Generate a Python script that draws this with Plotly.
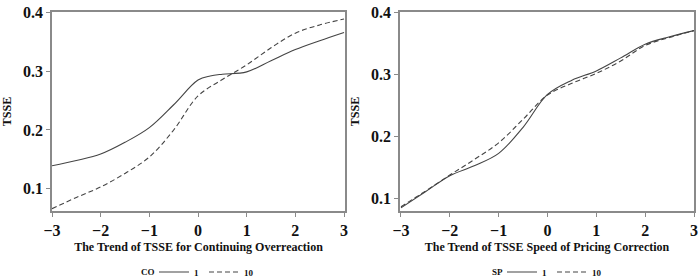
import plotly.graph_objects as go
from plotly.subplots import make_subplots

# ---- data ----
x_co = [-3, -2.5, -2, -1.5, -1, -0.5, 0, 0.25, 0.5, 1, 1.5, 2, 2.5, 3]
co_1 = [0.139, 0.148, 0.159, 0.179, 0.204, 0.243, 0.285, 0.292, 0.295, 0.299, 0.318, 0.337, 0.352, 0.366]
x_co10 = [-3, -2.5, -2, -1.5, -1, -0.5, 0, 0.5, 1, 1.5, 2, 2.5, 3]
co_10 = [0.066, 0.085, 0.103, 0.126, 0.154, 0.200, 0.258, 0.286, 0.311, 0.340, 0.365, 0.379, 0.389]

x_sp = [-3, -2.5, -2, -1.5, -1, -0.5, 0, 0.5, 1, 1.5, 2, 2.5, 3]
sp_1 = [0.085, 0.111, 0.137, 0.153, 0.173, 0.215, 0.268, 0.291, 0.306, 0.327, 0.349, 0.361, 0.371]
sp_10 = [0.087, 0.112, 0.138, 0.163, 0.190, 0.228, 0.267, 0.286, 0.302, 0.322, 0.347, 0.360, 0.371]

x_ticks = [-3, -2, -1, 0, 1, 2, 3]
x_ticklabels = ["\u22123", "\u22122", "\u22121", "0", "1", "2", "3"]
y_ticks = [0.1, 0.2, 0.3, 0.4]
y_ticklabels = ["0.1", "0.2", "0.3", "0.4"]

x_title_left = "The Trend of TSSE for Continuing Overreaction"
x_title_right = "The Trend of TSSE Speed of Pricing Correction"
y_title = "TSSE"
legend_title_left = "CO"
legend_title_right = "SP"

FONT = "Liberation Serif"
LINE_COLOR = "#444444"
AXIS_COLOR = "#8a8a8a"

fig = make_subplots(rows=1, cols=2)

fig.add_trace(go.Scatter(x=x_co, y=co_1, mode="lines", name="1",
                         line=dict(color=LINE_COLOR, width=1.1, shape="spline", smoothing=1.0),
                         legend="legend"), row=1, col=1)
fig.add_trace(go.Scatter(x=x_co10, y=co_10, mode="lines", name="10",
                         line=dict(color=LINE_COLOR, width=1.1, dash="5px,3px", shape="spline", smoothing=1.0),
                         legend="legend"), row=1, col=1)
fig.add_trace(go.Scatter(x=x_sp, y=sp_1, mode="lines", name="1",
                         line=dict(color=LINE_COLOR, width=1.1, shape="spline", smoothing=1.0),
                         legend="legend2"), row=1, col=2)
fig.add_trace(go.Scatter(x=x_sp, y=sp_10, mode="lines", name="10",
                         line=dict(color=LINE_COLOR, width=1.1, dash="5px,3px", shape="spline", smoothing=1.0),
                         legend="legend2"), row=1, col=2)

W, H = 700, 277
def px_x(a, b):
    return [a / W, b / W]
def px_y(top, bottom):
    return [(H - bottom) / H, (H - top) / H]

axis_common = dict(
    showline=True, mirror=True, linecolor=AXIS_COLOR, linewidth=1.5,
    ticks="outside", ticklen=4, tickcolor=AXIS_COLOR, tickwidth=1,
    showgrid=False, zeroline=False,
    tickfont=dict(family=FONT, size=16, color="#111111", weight="bold"),
    automargin=False,
)

fig.update_xaxes(**axis_common, tickvals=x_ticks, ticktext=x_ticklabels)
fig.update_yaxes(**axis_common, tickvals=y_ticks, ticktext=y_ticklabels)

title_font = dict(family=FONT, size=12, color="#111111", weight="bold")
legend_font = dict(family=FONT, size=9, color="#111111", weight="bold")

leg_y = 5 / H
fig.update_layout(
    width=W, height=H,
    margin=dict(l=0, r=0, t=0, b=0, autoexpand=False),
    paper_bgcolor="white", plot_bgcolor="white",
    xaxis=dict(domain=px_x(52, 345), range=[-3, 3.02],
               title=dict(text=x_title_left, font=title_font, standoff=5)),
    yaxis=dict(domain=px_y(12, 211), range=[0.062, 0.401],
               title=dict(text=y_title, font=title_font, standoff=9)),
    xaxis2=dict(domain=px_x(400, 694), range=[-3.02, 3.0],
                title=dict(text=x_title_right, font=title_font, standoff=5)),
    yaxis2=dict(domain=px_y(12, 211), range=[0.080, 0.401],
                title=dict(text=y_title, font=title_font, standoff=9)),
    legend=dict(orientation="h", x=154 / W, xanchor="left", y=leg_y, yanchor="middle",
                font=legend_font, bgcolor="rgba(0,0,0,0)", itemwidth=30, tracegroupgap=0),
    legend2=dict(orientation="h", x=502 / W, xanchor="left", y=leg_y, yanchor="middle",
                 font=legend_font, bgcolor="rgba(0,0,0,0)", itemwidth=30, tracegroupgap=0),
    showlegend=True,
    annotations=[
        dict(text=legend_title_left, x=157 / W, y=5 / H, xref="paper", yref="paper",
             xanchor="right", yanchor="middle", showarrow=False, font=legend_font),
        dict(text=legend_title_right, x=505 / W, y=5 / H, xref="paper", yref="paper",
             xanchor="right", yanchor="middle", showarrow=False, font=legend_font),
    ],
)

fig.write_html("out.html",
               config={"displayModeBar": False},
               post_script="document.body.style.margin='0';document.body.style.overflow='hidden';")
